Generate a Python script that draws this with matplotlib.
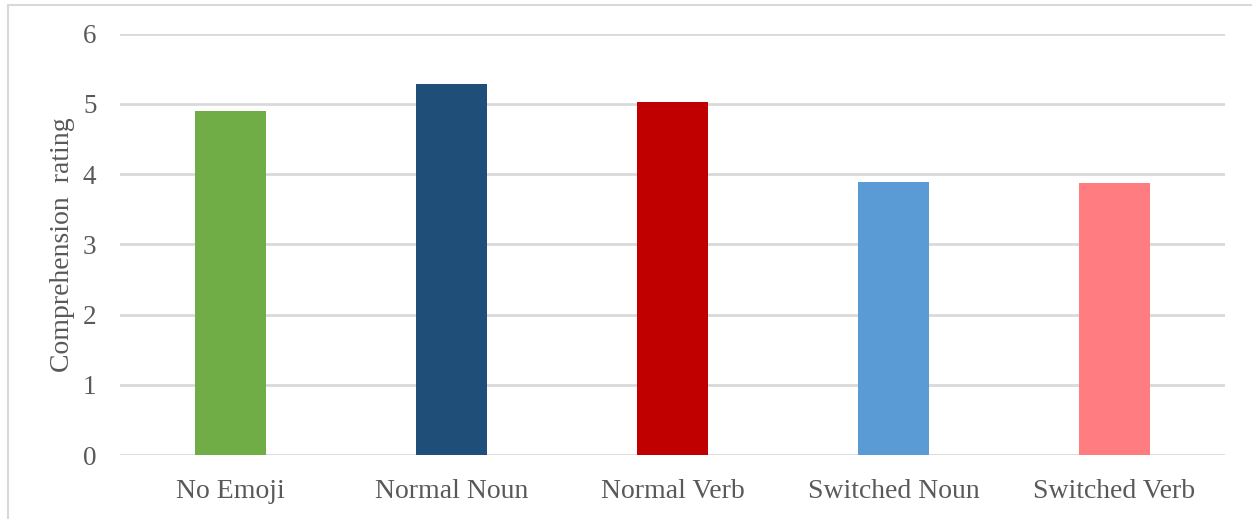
import matplotlib
matplotlib.use("Agg")
import matplotlib.pyplot as plt
from matplotlib.patches import Rectangle

# Mean comprehension rating per emoji condition
conditions = ["No Emoji", "Normal Noun", "Normal Verb", "Switched Noun", "Switched Verb"]
ratings = [4.90, 5.28, 5.03, 3.89, 3.87]
bar_colors = ["#70AD47", "#1F4E79", "#C00000", "#5B9BD5", "#FF7C80"]
y_ticks = [0, 1, 2, 3, 4, 5, 6]

plt.rcParams["font.family"] = ["Liberation Serif", "DejaVu Serif"]
text_color = "#595959"
grid_color = "#D9D9D9"

W, H = 1252, 519
fig = plt.figure(figsize=(W / 100, H / 100), dpi=100)
ax = fig.add_axes([120 / W, 1 - 455.3 / H, (1225 - 120) / W, (455.3 - 33.5) / H])

x = range(len(conditions))
ax.bar(x, ratings, width=0.317, color=bar_colors, zorder=3)

ax.set_xlim(-0.5, len(conditions) - 0.5)
ax.set_ylim(0, 6)
ax.set_yticks(y_ticks)
ax.set_xticks(list(x))
ax.set_xticklabels(conditions)
ax.yaxis.grid(True, color=grid_color, linewidth=2, zorder=0)
ax.set_axisbelow(True)
for s in ax.spines.values():
    s.set_visible(False)
ax.tick_params(axis="both", length=0, colors=text_color)
ax.tick_params(axis="x", labelsize=20, pad=17)
ax.tick_params(axis="y", labelsize=19.5, pad=17)
ax.set_ylabel("Comprehension  rating", fontsize=20, color=text_color, labelpad=5.5)

# light frame around the chart area
fig.patches.append(Rectangle((7.5 / W, -0.1), 1.2, 1 - 5.5 / H + 0.1,
                             transform=fig.transFigure, fill=False,
                             edgecolor=grid_color, linewidth=1.5))

fig.savefig("out.png", dpi=100, facecolor="white")
